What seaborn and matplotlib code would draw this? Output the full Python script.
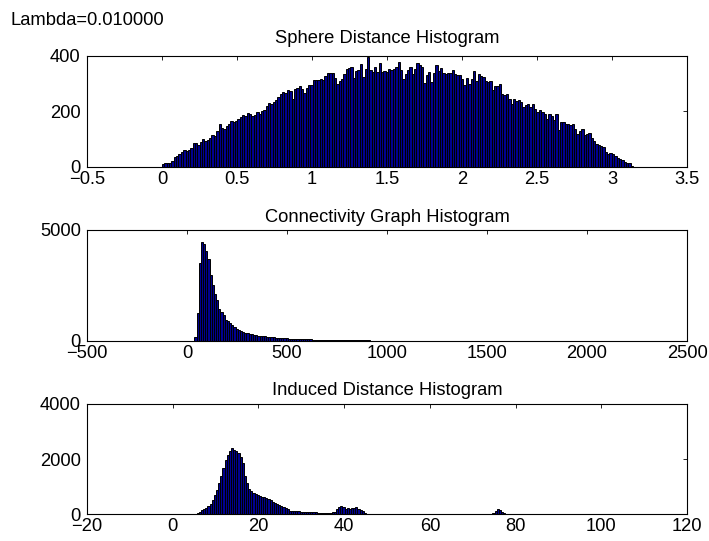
import numpy as np
import pandas as pd
import matplotlib
matplotlib.use("Agg")
import matplotlib.pyplot as plt
import seaborn as sns
from matplotlib.ticker import FuncFormatter

# ---------------- data ----------------
sphere_range = (0.0, 3.14)
sphere_counts = [
    8, 12, 13, 14, 20, 36, 40, 46, 52, 60,
    58, 62, 66, 86, 84, 78, 90, 100, 92, 96,
    104, 114, 110, 130, 154, 140, 138, 146, 154, 166,
    160, 166, 172, 178, 186, 182, 194, 190, 182, 188,
    196, 192, 200, 206, 218, 230, 226, 234, 242, 252,
    262, 270, 268, 276, 272, 246, 280, 284, 293, 280,
    266, 286, 294, 294, 312, 314, 312, 318, 312, 328,
    340, 340, 340, 322, 300, 310, 318, 336, 354, 356,
    360, 322, 346, 350, 370, 324, 354, 396, 350, 342,
    360, 342, 374, 342, 346, 342, 354, 350, 354, 362,
    378, 348, 318, 336, 348, 362, 336, 352, 374, 366,
    360, 302, 330, 342, 306, 340, 366, 344, 358, 338,
    336, 338, 338, 348, 336, 330, 330, 318, 294, 322,
    300, 318, 346, 310, 336, 328, 324, 310, 306, 310,
    276, 290, 292, 300, 264, 258, 264, 246, 228, 246,
    238, 240, 234, 216, 222, 228, 214, 228, 210, 198,
    204, 198, 192, 174, 192, 182, 170, 192, 134, 162,
    160, 156, 154, 150, 154, 138, 118, 130, 138, 114,
    118, 122, 102, 94, 82, 78, 74, 70, 54, 46,
    48, 46, 38, 30, 28, 26, 18, 14, 12, 2,
]

conn_range = (37.0, 2207.0)
conn_counts = [
    150, 1250, 3500, 4480, 4350, 4050, 3700, 2950, 2500, 2100,
    1820, 1450, 1300, 1150, 950, 880, 800, 700, 610, 540,
    480, 430, 400, 370, 340, 310, 290, 270, 250, 230,
    215, 200, 190, 180, 170, 160, 150, 140, 130, 122,
    115, 108, 104, 98, 92, 88, 84, 78, 74, 70,
    66, 62, 58, 55, 52, 48, 45, 42, 40, 36,
    34, 32, 30, 28, 26, 25, 23, 22, 20, 19,
    18, 17, 16, 15, 14, 13, 12, 12, 11, 10,
    10, 9, 9, 8, 8, 7, 7, 6, 6, 6,
    5, 5, 5, 4, 4, 4, 4, 3, 3, 3,
    3, 3, 2, 2, 2, 2, 2, 2, 2, 1,
    1, 1, 2, 1, 1, 1, 1, 1, 1, 1,
    1, 1, 0, 1, 1, 0, 1, 0, 1, 0,
    1, 0, 0, 1, 0, 1, 0, 0, 1, 0,
    0, 1, 0, 0, 0, 1, 0, 0, 1, 0,
    0, 0, 1, 0, 0, 0, 0, 1, 0, 0,
    0, 0, 0, 1, 0, 0, 0, 0, 0, 1,
    0, 0, 0, 0, 0, 0, 1, 0, 0, 0,
    0, 0, 0, 0, 1, 0, 0, 0, 0, 0,
    0, 0, 0, 0, 0, 0, 0, 0, 0, 1,
]

induced_range = (4.6, 104.6)
induced_counts = [
    10, 30, 60, 100, 150, 200, 245, 300, 360, 520,
    690, 880, 1120, 1380, 1680, 1960, 2150, 2300, 2400, 2340,
    2280, 2210, 2080, 1850, 1400, 1120, 900, 860, 780, 740,
    690, 660, 620, 615, 580, 550, 520, 460, 410, 370,
    330, 290, 250, 225, 180, 120, 110, 130, 115, 110,
    100, 95, 88, 82, 78, 72, 70, 72, 68, 62,
    58, 52, 50, 55, 68, 75, 85, 180, 270, 290,
    250, 205, 230, 205, 220, 235, 250, 210, 170, 110,
    60, 30, 20, 15, 14, 12, 12, 10, 10, 9,
    9, 8, 8, 8, 7, 7, 7, 6, 6, 6,
    6, 5, 5, 5, 5, 5, 5, 4, 4, 4,
    4, 4, 4, 4, 4, 5, 5, 5, 5, 5,
    5, 5, 6, 6, 6, 6, 7, 7, 7, 8,
    8, 8, 9, 9, 10, 10, 12, 14, 20, 30,
    60, 120, 190, 170, 90, 40, 15, 8, 6, 5,
    4, 4, 3, 3, 3, 2, 2, 2, 2, 2,
    2, 1, 1, 1, 1, 1, 1, 1, 1, 1,
    1, 1, 1, 1, 0, 1, 0, 1, 0, 1,
    0, 1, 0, 0, 1, 0, 0, 1, 0, 0,
    1, 0, 0, 0, 1, 0, 0, 0, 0, 1,
]

titles = ["Sphere Distance Histogram", "Connectivity Graph Histogram",
          "Induced Distance Histogram"]
xticks_list = [
    [-0.5, 0, 0.5, 1, 1.5, 2, 2.5, 3, 3.5],
    [-500, 0, 500, 1000, 1500, 2000, 2500],
    [-20, 0, 20, 40, 60, 80, 100, 120],
]
yticks_list = [[0, 200, 400], [0, 5000], [0, 2000, 4000]]
header = "Lambda=0.010000"

# ---------------- style ----------------
sns.set_theme(style="white")
plt.rcParams["font.family"] = ["Liberation Sans", "DejaVu Sans"]
plt.rcParams.update({
    "font.size": 13.2,
    "xtick.direction": "in",
    "ytick.direction": "in",
    "xtick.top": True,
    "ytick.right": True,
    "xtick.major.size": 3.0,
    "ytick.major.size": 3.0,
    "xtick.major.width": 0.6,
    "ytick.major.width": 0.6,
    "xtick.color": "black",
    "ytick.color": "black",
    "axes.edgecolor": "black",
    "axes.linewidth": 0.8,
    "text.color": "black",
    "xtick.labelsize": 13.2,
    "ytick.labelsize": 13.2,
    "axes.unicode_minus": True,
})

W, H = 709, 541
fig = plt.figure(figsize=(W / 100, H / 100), dpi=100)

left = 87 / W
width = 600 / W
ax_h = 110.7 / H
bottoms = [1 - 166.7 / H, 1 - 340.7 / H, 1 - 514.4 / H]
title_pads = [9.3, 6.0, 6.0]

datasets = [
    (sphere_counts, sphere_range),
    (conn_counts, conn_range),
    (induced_counts, induced_range),
]

fmt = FuncFormatter(lambda v, p: ("%g" % v).replace("-", "\u2212"))

for i, (counts, (lo, hi)) in enumerate(datasets):
    ax = fig.add_axes([left, bottoms[i], width, ax_h])
    n = len(counts)
    step = (hi - lo) / n
    centers = lo + step * (np.arange(n) + 0.5)
    df = pd.DataFrame({"x": centers, "count": np.asarray(counts, float)})
    sns.histplot(data=df, x="x", weights="count", bins=n, binrange=(lo, hi),
                 ax=ax, color="#00008f", edgecolor="black", linewidth=0.7,
                 alpha=1.0, stat="count")
    xt = xticks_list[i]
    yt = yticks_list[i]
    ax.set_xlim(xt[0], xt[-1])
    ax.set_ylim(yt[0], yt[-1])
    ax.set_xticks(xt)
    ax.set_yticks(yt)
    ax.xaxis.set_major_formatter(fmt)
    ax.yaxis.set_major_formatter(fmt)
    ax.set_xlabel("")
    ax.set_ylabel("")
    ax.tick_params(axis="x", pad=2.8)
    ax.tick_params(axis="y", pad=4.5)
    ax.set_title(titles[i], fontsize=13.2, pad=title_pads[i])
    for s in ax.spines.values():
        s.set_visible(True)
        s.set_color("black")
        s.set_linewidth(0.8)

fig.text(11 / W, 1 - 25 / H, header, fontsize=13.2, ha="left", va="baseline")

fig.savefig("out.png", dpi=100)
